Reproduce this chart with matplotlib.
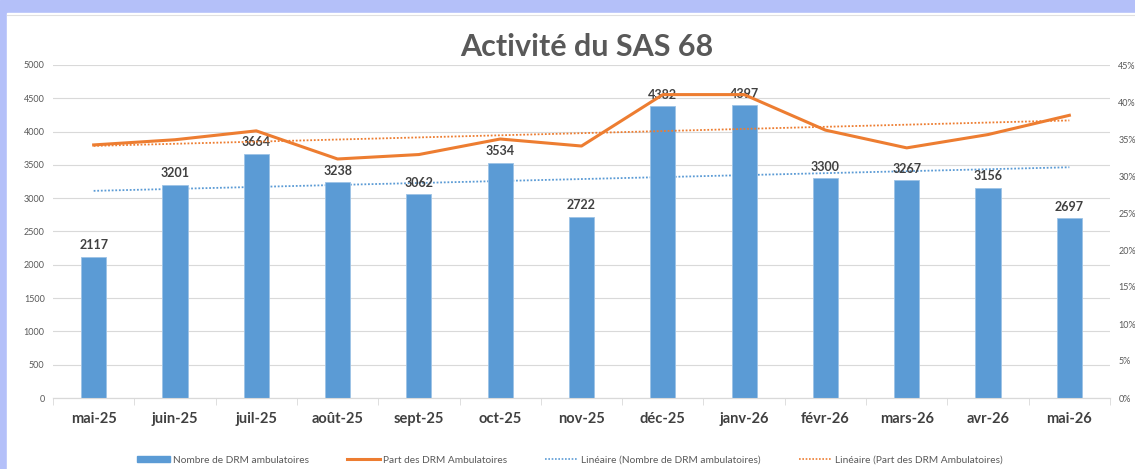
import numpy as np
import matplotlib.pyplot as plt
from matplotlib.lines import Line2D
from matplotlib.patches import Patch, Rectangle

plt.rcParams['font.family'] = ['Lato', 'DejaVu Sans']

mois = ["mai-25", "juin-25", "juil-25", "août-25", "sept-25", "oct-25", "nov-25",
        "déc-25", "janv-26", "févr-26", "mars-26", "avr-26", "mai-26"]
nb_drm = [2117, 3201, 3664, 3238, 3062, 3534, 2722, 4382, 4397, 3300, 3267, 3156, 2697]
part_drm = [34.2, 34.9, 36.1, 32.3, 32.9, 35.0, 34.05, 41.0, 41.0, 36.2, 33.8, 35.6, 38.2]

bleu = '#5B9BD5'
orange = '#ED7D31'
gris = '#595959'
grille = '#D9D9D9'

x = np.arange(len(mois))

fig = plt.figure(figsize=(11.35, 4.69), dpi=100)
# fond lavande autour du graphique
fig.patches.append(Rectangle((0, 0), 1, 1, transform=fig.transFigure, color='#B4C0F9', zorder=-10))
fig.patches.append(Rectangle((7 / 1135, 0), 1, 1 - 13 / 469, transform=fig.transFigure,
                             color='white', zorder=-9))
fig.add_artist(Line2D([7 / 1135, 1], [1 - 15 / 469] * 2, color='#E0E0E0', lw=0.8))

ax = fig.add_axes([53 / 1135, 1 - 398 / 469, (1110 - 53) / 1135, (398 - 65) / 469])
ax.set_facecolor('none')
ax2 = ax.twinx()

ax.bar(x, nb_drm, width=0.31, color=bleu, edgecolor='#9DC3E6', linewidth=0.6, zorder=3)
for xi, v in zip(x, nb_drm):
    ax.annotate(str(v), (xi, v), xytext=(0, 4), textcoords='offset points',
                ha='center', va='bottom', fontsize=9, fontweight='bold', color='#404040', zorder=5)

# courbes de tendance linéaires
a, b = np.polyfit(x, nb_drm, 1)
ax.plot(x, a * x + b, color=bleu, ls=(0, (1, 1)), lw=1.3, zorder=2)

ax2.plot(x, part_drm, color=orange, lw=2.2, zorder=4)
c, d = np.polyfit(x, part_drm, 1)
ax2.plot(x, c * x + d, color=orange, ls=(0, (1, 1)), lw=1.3, zorder=3)

ax.set_xlim(-0.5, len(mois) - 0.5)
ax.set_ylim(0, 5000)
ax.set_yticks(np.arange(0, 5001, 500))
ax2.set_ylim(0, 45)
ax2.set_yticks(np.arange(0, 46, 5))
ax2.set_yticklabels([f"{v}%" for v in range(0, 46, 5)])

ax.grid(axis='y', color=grille, lw=0.8, zorder=0)
ax.set_axisbelow(True)
for a_ in (ax, ax2):
    for s in ('top', 'left', 'right'):
        a_.spines[s].set_visible(False)
    a_.spines['bottom'].set_color(grille)

ax.set_xticks(x)
ax.set_xticklabels(mois, fontsize=10.5, fontweight='bold', color='#404040')
ax.set_xticks(np.arange(-0.5, len(mois), 1), minor=True)
ax.tick_params(axis='x', which='major', length=0, pad=10)
ax.tick_params(axis='x', which='minor', length=5, color=grille)
ax.tick_params(axis='y', length=0, labelsize=6.5, labelcolor=gris, pad=6)
ax2.tick_params(axis='y', length=0, labelsize=6.5, labelcolor=gris, pad=6)

fig.text(0.517, 1 - 47 / 469, "Activité du SAS 68", ha='center', va='center',
         fontsize=22, fontweight='bold', color=gris)

handles = [Patch(color=bleu),
           Line2D([], [], color=orange, lw=2.2),
           Line2D([], [], color=bleu, ls=(0, (1, 1)), lw=1.2),
           Line2D([], [], color=orange, ls=(0, (1, 1)), lw=1.2)]
labels = ["Nombre de DRM ambulatoires", "Part des DRM Ambulatoires",
          "Linéaire (Nombre de DRM ambulatoires)", "Linéaire (Part des DRM Ambulatoires)"]
fig.legend(handles, labels, loc='center', bbox_to_anchor=(0.502, 1 - 460 / 469), ncol=4,
           frameon=False, fontsize=7.3, labelcolor=gris, handlelength=3.2, handleheight=0.6,
           handletextpad=0.3, columnspacing=3.8)

fig.savefig('out.png', dpi=100)
